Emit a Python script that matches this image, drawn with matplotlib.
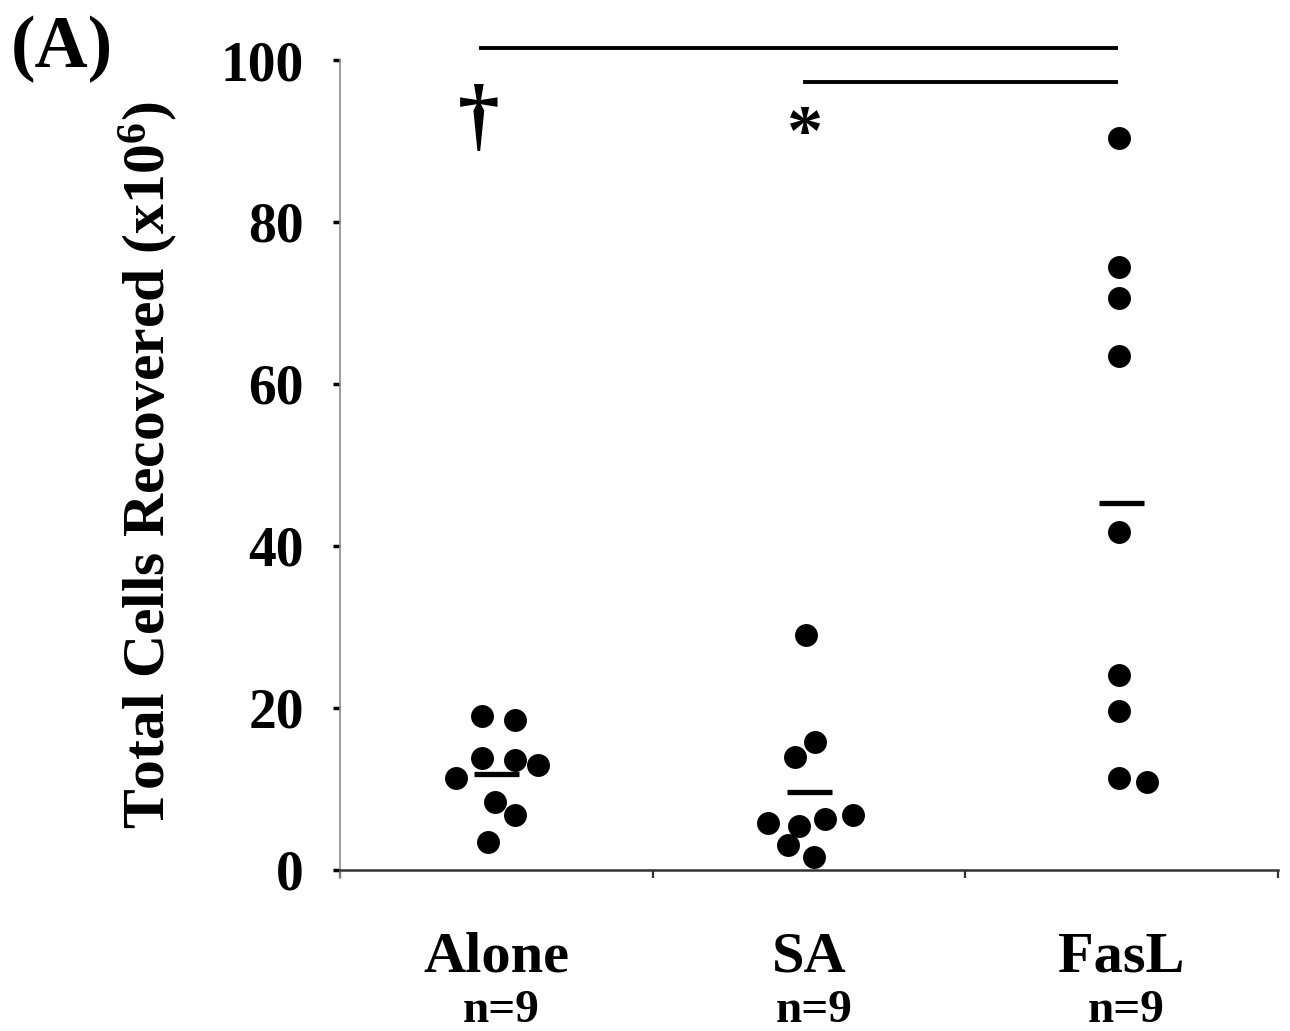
import matplotlib
matplotlib.use("Agg")
import matplotlib.pyplot as plt
import matplotlib.transforms as mtransforms
import numpy as np

plt.rcParams['font.family'] = ['Liberation Serif', 'DejaVu Serif']
plt.rcParams['font.weight'] = 'bold'
plt.rcParams['axes.labelweight'] = 'bold'
plt.rcParams['mathtext.fontset'] = 'custom'
plt.rcParams['mathtext.rm'] = 'Liberation Serif:bold'
plt.rcParams['mathtext.it'] = 'Liberation Serif:bold'
plt.rcParams['mathtext.bf'] = 'Liberation Serif:bold'

# groups and counts
groups = ['Alone', 'SA', 'FasL']
n_labels = ['n=9', 'n=9', 'n=9']

# total cells recovered (x10^6)
alone = [19.0, 18.5, 13.8, 13.6, 13.0, 11.4, 8.4, 6.8, 3.5]
sa = [29.0, 15.8, 14.0, 5.8, 5.4, 6.3, 6.8, 3.1, 1.6]
fasl = [90.4, 74.4, 70.6, 63.5, 41.7, 24.1, 19.6, 11.4, 10.9]
# horizontal scatter of each dot around its group centre
alone_dx = [-0.045, 0.058, -0.045, 0.061, 0.134, -0.128, -0.003, 0.061, -0.026]
sa_dx = [-0.010, 0.019, -0.045, -0.131, -0.032, 0.051, 0.141, -0.067, 0.016]
fasl_dx = [-0.01, -0.01, -0.01, -0.01, -0.01, -0.01, -0.01, -0.01, 0.08]
means = [11.9, 9.6, 45.3]

values = [alone, sa, fasl]
jitter = [alone_dx, sa_dx, fasl_dx]
centers = np.arange(len(groups)) + 0.5

fig = plt.figure(figsize=(12.9, 10.31), dpi=100)
ax = fig.add_axes([0.2636, 0.1562, 0.9907 - 0.2636, 0.9418 - 0.1562])

for c, v, dx in zip(centers, values, jitter):
    ax.plot(c + np.array(dx), v, 'o', color='black', markersize=16.5,
            markeredgewidth=0, clip_on=False, zorder=3)

for c, m in zip(centers, means):
    ax.plot([c - 0.072, c + 0.072], [m, m], color='black', lw=3.8,
            solid_capstyle='butt', zorder=3)

# significance bars
ax.plot([0.451, 2.483], [101.5, 101.5], color='black', lw=2.8, clip_on=False)
ax.plot([1.487, 2.483], [97.3, 97.3], color='black', lw=2.8, clip_on=False)
ax.text(0.445, 92.4, '\u2020', fontsize=60, ha='center', va='center',
        fontweight='bold')
ax.text(1.487, 90.6, '*', fontsize=52, ha='center', va='center',
        fontweight='bold')

ax.set_xlim(0, 3)
ax.set_ylim(0, 100)
ax.set_yticks([0, 20, 40, 60, 80, 100])
ax.set_xticks([0, 1, 2, 3])
ax.set_xticklabels([])
ax.set_xticks(centers, minor=True)
ax.set_xticklabels(groups, minor=True, fontsize=42)
ax.tick_params(axis='x', which='minor', length=0, pad=44)
ax.tick_params(axis='x', which='major', length=6, width=1.6, color='#333333',
               direction='out')
ax.tick_params(axis='y', length=5, width=2.5, color='black', pad=21,
               labelsize=40)

tr = mtransforms.blended_transform_factory(ax.transData, ax.transAxes)
for c, t in zip(centers, n_labels):
    ax.text(c + 0.015, -0.1877, t, fontsize=34, ha='center', va='baseline',
            transform=tr)

ax.set_ylabel('Total Cells Recovered (x10$^{6}$)', fontsize=43, labelpad=29)

for s in ['top', 'right']:
    ax.spines[s].set_visible(False)
ax.spines['left'].set_color('#8c8c8c')
ax.spines['left'].set_linewidth(1.2)
ax.spines['left'].set_bounds(-1, 100)
ax.spines['bottom'].set_color('#333333')
ax.spines['bottom'].set_linewidth(1.8)

fig.text(0.008, 0.985, '(A)', fontsize=53, ha='left', va='top')

fig.savefig('out.png', dpi=100)
